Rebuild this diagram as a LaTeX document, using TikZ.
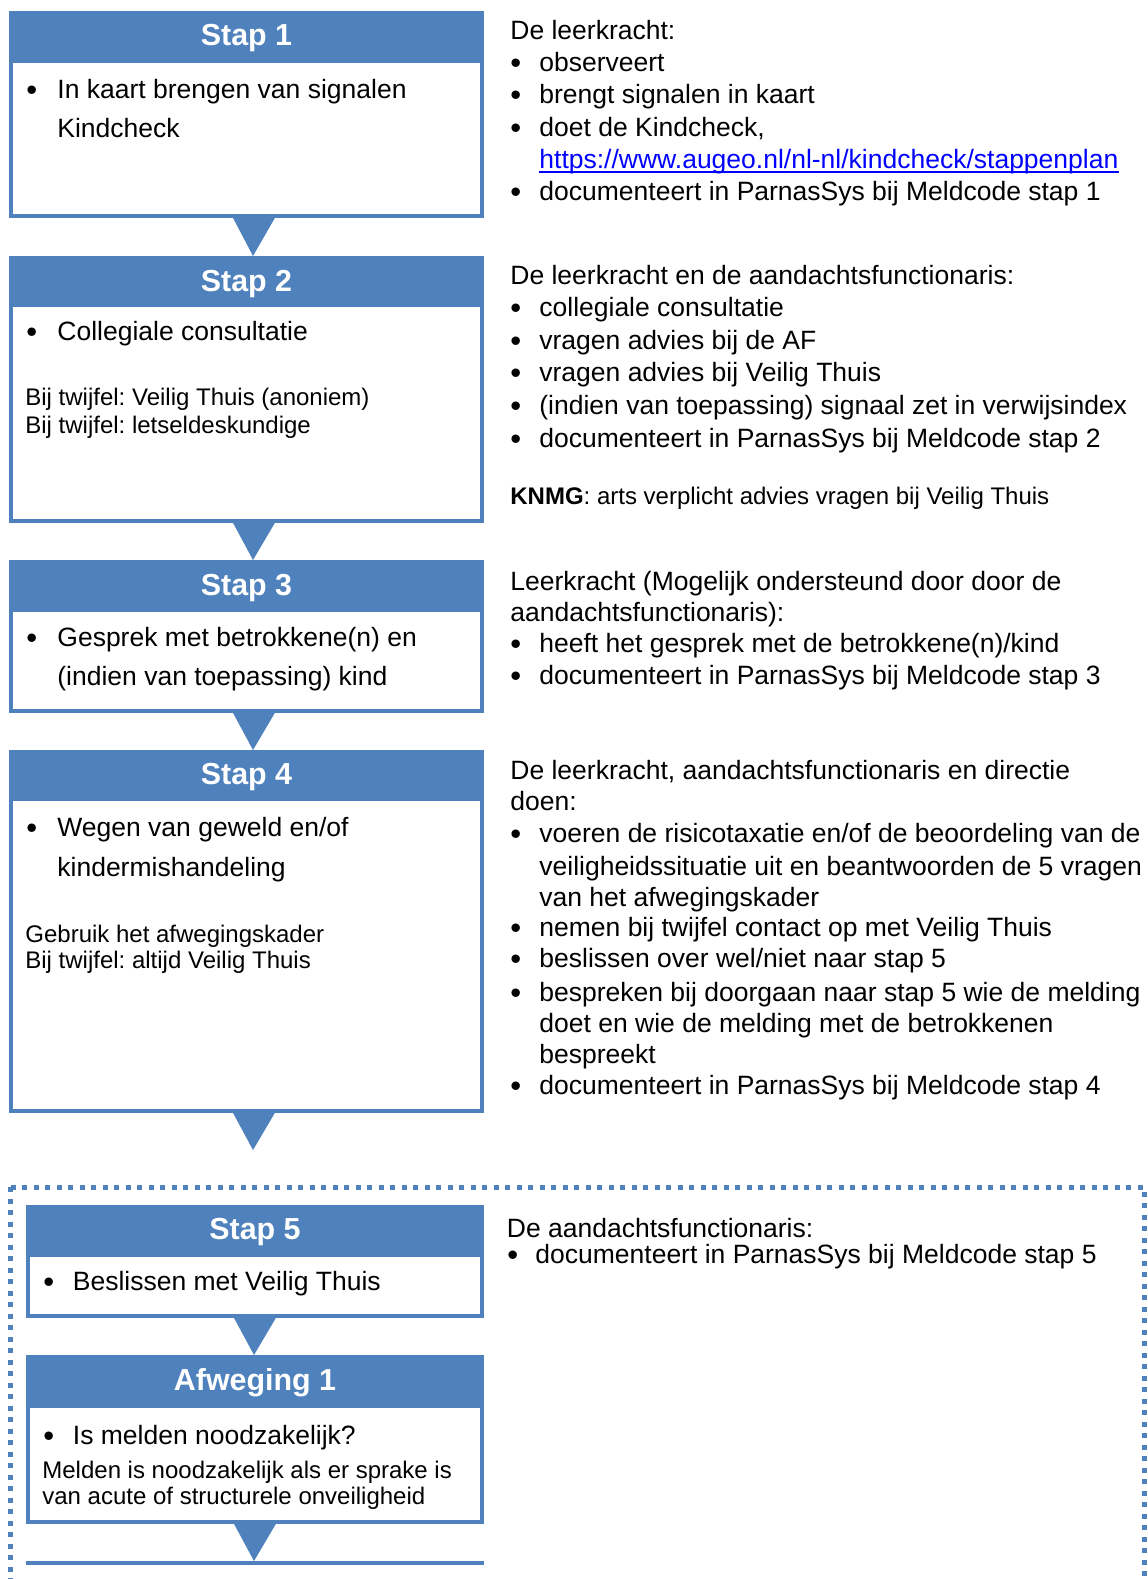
\documentclass[tikz,border=0pt]{standalone}
\usepackage{fontspec}
\setmainfont{Liberation Sans}
\usetikzlibrary{calc}
\definecolor{accent}{RGB}{79,129,189}
\definecolor{linkblue}{RGB}{0,0,255}
\newcommand\fBody{\fontsize{13.25pt}{16pt}\selectfont}
\newcommand\fSmall{\fontsize{12pt}{14pt}\selectfont}
\newcommand\fHead{\fontsize{15.2pt}{18pt}\selectfont\bfseries}
\newcommand\fBul{\fontsize{15.5pt}{16pt}\selectfont}
% bullet line: name, bullet x, text x, baseline y, text
\newcommand\bul[5]{%
  \node[bltxt] (#1d) at (#2-1,#4+2) {•};
  \node[btxt] (#1) at (#3,#4) {#5};}
\frenchspacing
\begin{document}
\frenchspacing
\begin{tikzpicture}[x=0.5pt,y=-0.5pt,
  hdr/.style={fill=accent, draw=none, inner sep=0pt, outer sep=0pt, anchor=north west},
  frm/.style={draw=accent, line width=2pt, fill=white, inner sep=0pt, outer sep=0pt, anchor=north west},
  htxt/.style={text=white, font=\fHead, anchor=base, inner sep=0pt},
  btxt/.style={font=\fBody, anchor=base west, inner sep=0pt},
  bltxt/.style={font=\fBul, anchor=base west, inner sep=0pt},
  stxt/.style={font=\fSmall, anchor=base west, inner sep=0pt},
  tri/.style={fill=accent},
  uline/.style={draw=linkblue, line width=0.7pt},
  dotframe/.style={draw=accent, line width=2.5pt, dash pattern=on 2.5pt off 3.25pt}]
\useasboundingbox (0,0) rectangle (1147,1579);
\clip (0,0) rectangle (1147,1579);

% dotted frame around step 5
\draw[dotframe] (10.5,1187) rectangle (1144.5,1700);

% ---- boxes ----
\node[frm, minimum width=235.5pt, minimum height=77.5pt] (f1) at (11,61) {};
\node[hdr, minimum width=237.5pt, minimum height=26pt] (h1) at (9,11) {};
\node[frm, minimum width=235.5pt, minimum height=108pt] (f2) at (11,305) {};
\node[hdr, minimum width=237.5pt, minimum height=25.5pt] (h2) at (9,256) {};
\node[frm, minimum width=235.5pt, minimum height=50.5pt] (f3) at (11,610) {};
\node[hdr, minimum width=237.5pt, minimum height=26pt] (h3) at (9,560) {};
\node[frm, minimum width=235.5pt, minimum height=156pt] (f4) at (11,799) {};
\node[hdr, minimum width=237.5pt, minimum height=25.5pt] (h4) at (9,750) {};
\node[frm, minimum width=227pt, minimum height=30.5pt] (f5) at (28,1255) {};
\node[hdr, minimum width=229pt, minimum height=26pt] (h5) at (26,1205) {};
\node[frm, minimum width=227pt, minimum height=58pt] (f6) at (28,1406) {};
\node[hdr, minimum width=229pt, minimum height=26.5pt] (h6) at (26,1355) {};
\node[hdr, minimum width=229pt, minimum height=2pt] (h7) at (26,1561) {};

% ---- triangles ----
\fill[tri] ($(f1.south)+(-14.5,0)$) -- ($(f1.south)+(29.5,0)$) -- ($(h2.north)+(6.5,0)$) -- cycle;
\fill[tri] ($(f2.south)+(-14.5,0)$) -- ($(f2.south)+(29.5,0)$) -- ($(h3.north)+(6.5,0)$) -- cycle;
\fill[tri] ($(f3.south)+(-14.5,0)$) -- ($(f3.south)+(29.5,0)$) -- ($(h4.north)+(6.5,0)$) -- cycle;
\coordinate (t4) at (253,1150);
\fill[tri] ($(f4.south)+(-14.5,0)$) -- ($(f4.south)+(29.5,0)$) -- (t4) -- cycle;
\fill[tri] ($(f5.south)+(-22,0)$) -- ($(f5.south)+(22,0)$) -- ($(h6.north)+(-1,0)$) -- cycle;
\fill[tri] ($(f6.south)+(-22,0)$) -- ($(f6.south)+(22,0)$) -- ($(h7.north)+(-1,0)$) -- cycle;

% ---- header texts ----
\node[htxt] (ht1) at (246.5,46) {Stap 1};
\node[htxt] (ht2) at (246.5,291) {Stap 2};
\node[htxt] (ht3) at (246.5,595) {Stap 3};
\node[htxt] (ht4) at (246.5,784) {Stap 4};
\node[htxt] (ht5) at (255,1239) {Stap 5};
\node[htxt] (ht6) at (255,1390) {Afweging 1};

% ---- box texts ----
\bul{b1a}{27}{57}{98}{In kaart brengen van signalen}
\node[btxt] (b1b) at (57,137) {Kindcheck};

\bul{b2a}{27}{57}{340.3}{Collegiale consultatie}
\node[stxt] (b2b) at (25,405.8) {Bij twijfel: Veilig Thuis (anoniem)};
\node[stxt] (b2c) at (25,433) {Bij twijfel: letseldeskundige};

\bul{b3a}{27}{57}{646.4}{Gesprek met betrokkene(n) en}
\node[btxt] (b3b) at (57,685.7) {(indien van toepassing) kind};

\bul{b4a}{27}{57}{836.8}{Wegen van geweld en/of}
\node[btxt] (b4b) at (57,876) {kindermishandeling};
\node[stxt] (b4c) at (25,942.5) {Gebruik het afwegingskader};
\node[stxt] (b4d) at (25,968.7) {Bij twijfel: altijd Veilig Thuis};

\bul{b5a}{44}{72.5}{1290.9}{Beslissen met Veilig Thuis}

\bul{b6a}{44}{72.5}{1444}{Is melden noodzakelijk?}
\node[stxt] (b6b) at (42,1478) {Melden is noodzakelijk als er sprake is};
\node[stxt] (b6c) at (42,1504.5) {van acute of structurele onveiligheid};

% ---- right column: step 1 ----
\node[btxt] (r1) at (510,39.5) {De leerkracht:};
\bul{r1a}{511}{539}{71.7}{observeert}
\bul{r1b}{511}{539}{103.9}{brengt signalen in kaart}
\bul{r1c}{511}{539}{136.1}{doet de Kindcheck,}
\node[btxt, text=linkblue] (r1u) at (539,168.3) {https://www.augeo.nl/nl-nl/kindcheck/stappenplan};
\draw[uline] ($(r1u.base west)+(0,3.5)$) -- ($(r1u.base east)+(0,3.5)$);
\bul{r1e}{511}{539}{200.5}{documenteert in ParnasSys bij Meldcode stap 1}

% ---- right column: step 2 ----
\node[btxt] (r2) at (510,284) {De leerkracht en de aandachtsfunctionaris:};
\bul{r2a}{511}{539}{316}{collegiale consultatie}
\bul{r2b}{511}{539}{349}{vragen advies bij de AF}
\bul{r2c}{511}{539}{381.5}{vragen advies bij Veilig Thuis}
\bul{r2d}{511}{539}{414}{(indien van toepassing) signaal zet in verwijsindex}
\bul{r2e}{511}{539}{447}{documenteert in ParnasSys bij Meldcode stap 2}
\node[stxt] (r2k) at (510,504.5) {\textbf{KNMG}: arts verplicht advies vragen bij Veilig Thuis};

% ---- right column: step 3 ----
\node[btxt] (r3) at (510,590) {Leerkracht (Mogelijk ondersteund door door de};
\node[btxt] (r3b) at (510,621) {aandachtsfunctionaris):};
\bul{r3c}{511}{539}{652.5}{heeft het gesprek met de betrokkene(n)/kind}
\bul{r3d}{511}{539}{684.7}{documenteert in ParnasSys bij Meldcode stap 3}

% ---- right column: step 4 ----
\node[btxt] (r4) at (510,779.4) {De leerkracht, aandachtsfunctionaris en directie};
\node[btxt] (r4b) at (510,810.6) {doen:};
\bul{r4c}{511}{539}{842.8}{voeren de risicotaxatie en/of de beoordeling van de}
\node[btxt] (r4c2) at (539,875) {veiligheidssituatie uit en beantwoorden de 5 vragen};
\node[btxt] (r4c3) at (539,906.2) {van het afwegingskader};
\bul{r4d}{511}{539}{936.5}{nemen bij twijfel contact op met Veilig Thuis}
\bul{r4e}{511}{539}{967.7}{beslissen over wel/niet naar stap 5}
\bul{r4f}{511}{539}{1001.9}{bespreken bij doorgaan naar stap 5 wie de melding}
\node[btxt] (r4f2) at (539,1032.1) {doet en wie de melding met de betrokkenen};
\node[btxt] (r4f3) at (539,1063.3) {bespreekt};
\bul{r4g}{511}{539}{1094.5}{documenteert in ParnasSys bij Meldcode stap 4}

% ---- right column: step 5 ----
\node[btxt] (r5) at (506.5,1237.5) {De aandachtsfunctionaris:};
\bul{r5a}{508}{535}{1263.7}{documenteert in ParnasSys bij Meldcode stap 5}
\end{tikzpicture}
\end{document}
